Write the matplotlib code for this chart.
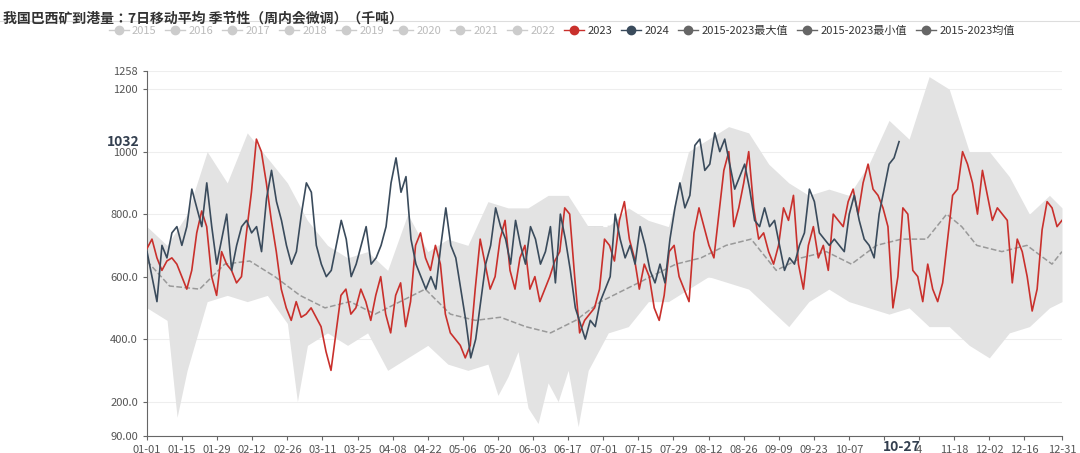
import numpy as np
import matplotlib.pyplot as plt
import datetime

plt.rcParams['font.family'] = ['Noto Sans CJK JP', 'Noto Sans CJK SC', 'DejaVu Sans']

# 2023 daily (every ~2 days over the year)
y2023 = [690,720,660,620,650,660,640,600,560,620,740,810,760,600,540,680,640,620,580,600,
         740,870,1040,1000,900,780,680,560,500,460,520,470,480,500,470,440,360,300,420,540,
         560,480,500,560,520,460,540,600,480,420,540,580,440,520,700,740,660,620,700,640,
         480,420,400,380,340,380,560,720,640,560,600,720,780,620,560,660,700,560,600,520,
         560,600,650,680,820,800,600,420,460,480,500,560,720,700,650,780,840,720,660,560,
         640,600,500,460,540,680,700,600,560,520,740,820,760,700,660,800,940,1000,760,820,
         900,1000,820,720,740,680,640,700,820,780,860,640,560,700,760,660,700,620,800,780,
         760,840,880,800,900,960,880,860,820,760,500,600,820,800,620,600,520,640,560,520,
         580,720,860,880,1000,960,900,800,940,860,780,820,800,780,580,720,680,600,490,560,
         750,840,820,760,780]
# 2024 up to 10-27
y2024 = [680,600,520,700,660,740,760,700,760,880,820,760,900,760,640,720,800,620,700,760,
         780,740,760,680,850,940,840,780,700,640,680,800,900,870,700,640,600,620,700,780,
         720,600,640,700,760,640,660,700,760,900,980,870,920,720,640,600,560,600,560,700,
         820,700,660,560,460,340,400,520,640,700,820,760,720,640,780,700,640,760,720,640,
         680,760,580,800,720,620,500,450,400,460,440,520,560,600,800,720,660,700,640,760,
         700,620,580,640,580,720,820,900,820,860,1020,1040,940,960,1060,1000,1040,960,880,920,
         960,880,780,760,820,760,780,700,620,660,640,700,740,880,840,740,720,700,720,700,
         680,800,860,780,720,700,660,800,880,960,980,1032]

mean_days = [0,9,21,31,41,51,61,71,81,91,101,111,121,131,141,151,161,171,181,191,
             201,211,221,231,241,251,261,271,281,291,301,311,319,325,331,341,351,361,365]
mean_vals = [650,570,560,640,650,600,540,500,520,480,520,560,480,460,470,440,420,460,520,560,
             600,640,660,700,720,620,660,680,640,700,720,720,800,760,700,680,700,640,680]

max_days = [0,8,16,24,32,40,48,56,64,72,80,88,96,104,112,120,128,136,144,152,160,168,176,184,
            192,200,208,216,224,232,240,248,256,264,272,280,288,296,304,312,320,328,336,344,352,360,365]
max_vals = [760,700,800,1000,900,1060,980,900,780,700,660,680,620,800,680,720,700,840,820,820,
            860,860,760,760,820,780,760,1000,1040,1080,1060,960,900,860,880,860,960,1100,1040,1240,
            1200,1000,1000,920,800,860,820]
min_days = [0,8,12,16,24,32,40,48,56,60,64,72,80,88,96,104,112,120,128,136,140,144,148,152,156,
            160,164,168,172,176,184,192,200,208,216,224,232,240,248,256,264,272,280,288,296,304,
            312,320,328,336,344,352,360,365]
min_vals = [500,460,150,300,520,540,520,540,450,200,380,420,380,420,300,340,380,320,300,320,220,
            280,360,180,130,260,200,300,120,300,420,440,520,520,560,600,580,560,500,440,520,560,
            520,500,480,500,440,440,380,340,420,440,500,520]

d23 = np.linspace(0, 365, len(y2023))
d24 = np.linspace(0, 300, len(y2024))
years = ['2015', '2016', '2017', '2018', '2019', '2020', '2021', '2022']

fig = plt.figure(figsize=(10.8, 4.53), dpi=100)
ax = fig.add_axes([147/1080, 17/453, 915/1080, 365/453])

band_x = np.arange(0, 366)
ax.fill_between(band_x, np.interp(band_x, min_days, min_vals), np.interp(band_x, max_days, max_vals),
                color='#e3e3e3', lw=0, zorder=1)
ax.plot(mean_days, mean_vals, color='#999999', ls='--', lw=1.1, zorder=2)
ax.plot(d23, y2023, color='#c9302c', lw=1.2, zorder=3)
ax.plot(d24, y2024, color='#3a4b5c', lw=1.2, zorder=4)

ax.set_xlim(0, 365)
ax.set_ylim(90, 1258)
yt = [90, 200, 400, 600, 800, 1000, 1200, 1258]
ax.set_yticks(yt)
ax.set_yticklabels(['90.00', '200.0', '400.0', '600.0', '800.0', '1000', '1200', '1258'], fontsize=8, color='#555555')
ax.grid(axis='y', color='#eeeeee', lw=0.8)
ax.set_axisbelow(True)

# leap-year calendar (02-26 -> 03-11)
start = datetime.date(2024, 1, 1)
xt = list(range(0, 358, 14)) + [365]
labels = [(start + datetime.timedelta(days=d)).strftime('%m-%d') for d in xt]
labels = ['' if l == '10-21' else ('4' if l == '11-04' else l) for l in labels]
ax.set_xticks(xt)
ax.set_xticklabels(labels, fontsize=8, color='#555555')
ax.text(301, 90 - 12, '10-27', fontsize=10, fontweight='bold', color='#333f4f', ha='center', va='top')
ax.text(-3, 1032, '1032', fontsize=10, fontweight='bold', color='#333f4f', ha='right', va='center')

for s in ['top', 'right']:
    ax.spines[s].set_visible(False)
ax.spines['left'].set_color('#666666')
ax.spines['bottom'].set_color('#666666')
ax.tick_params(length=3, color='#666666')

ax.text(0.5, 0.55, '紫金天风期货', transform=ax.transAxes, fontsize=14, color='#cccccc', alpha=0.6,
        ha='center', va='center', zorder=0)

fig.text(0.003, 0.975, '我国巴西矿到港量：7日移动平均 季节性（周内会微调）（千吨）', fontsize=10,
         fontweight='bold', color='#333333', va='top')
fig.add_artist(plt.Line2D([0, 1], [0.953, 0.953], color='#dddddd', lw=0.8))

handles = []
names = years + ['2023', '2024', '2015-2023最大值', '2015-2023最小值', '2015-2023均值']
cols = ['#cccccc'] * 8 + ['#c9302c', '#3a4b5c', '#666666', '#666666', '#666666']
for n, c in zip(names, cols):
    handles.append(plt.Line2D([], [], color=c, marker='o', ms=6, lw=1, label=n))
leg = fig.legend(handles=handles, loc='upper center', bbox_to_anchor=(0.52, 0.965), ncol=13, frameon=False,
                 fontsize=8, handlelength=1.8, columnspacing=0.8, handletextpad=0.3)
for t, c in zip(leg.get_texts(), names):
    t.set_color('#bbbbbb' if c in years else '#333333')

fig.savefig('out.png', dpi=100)
